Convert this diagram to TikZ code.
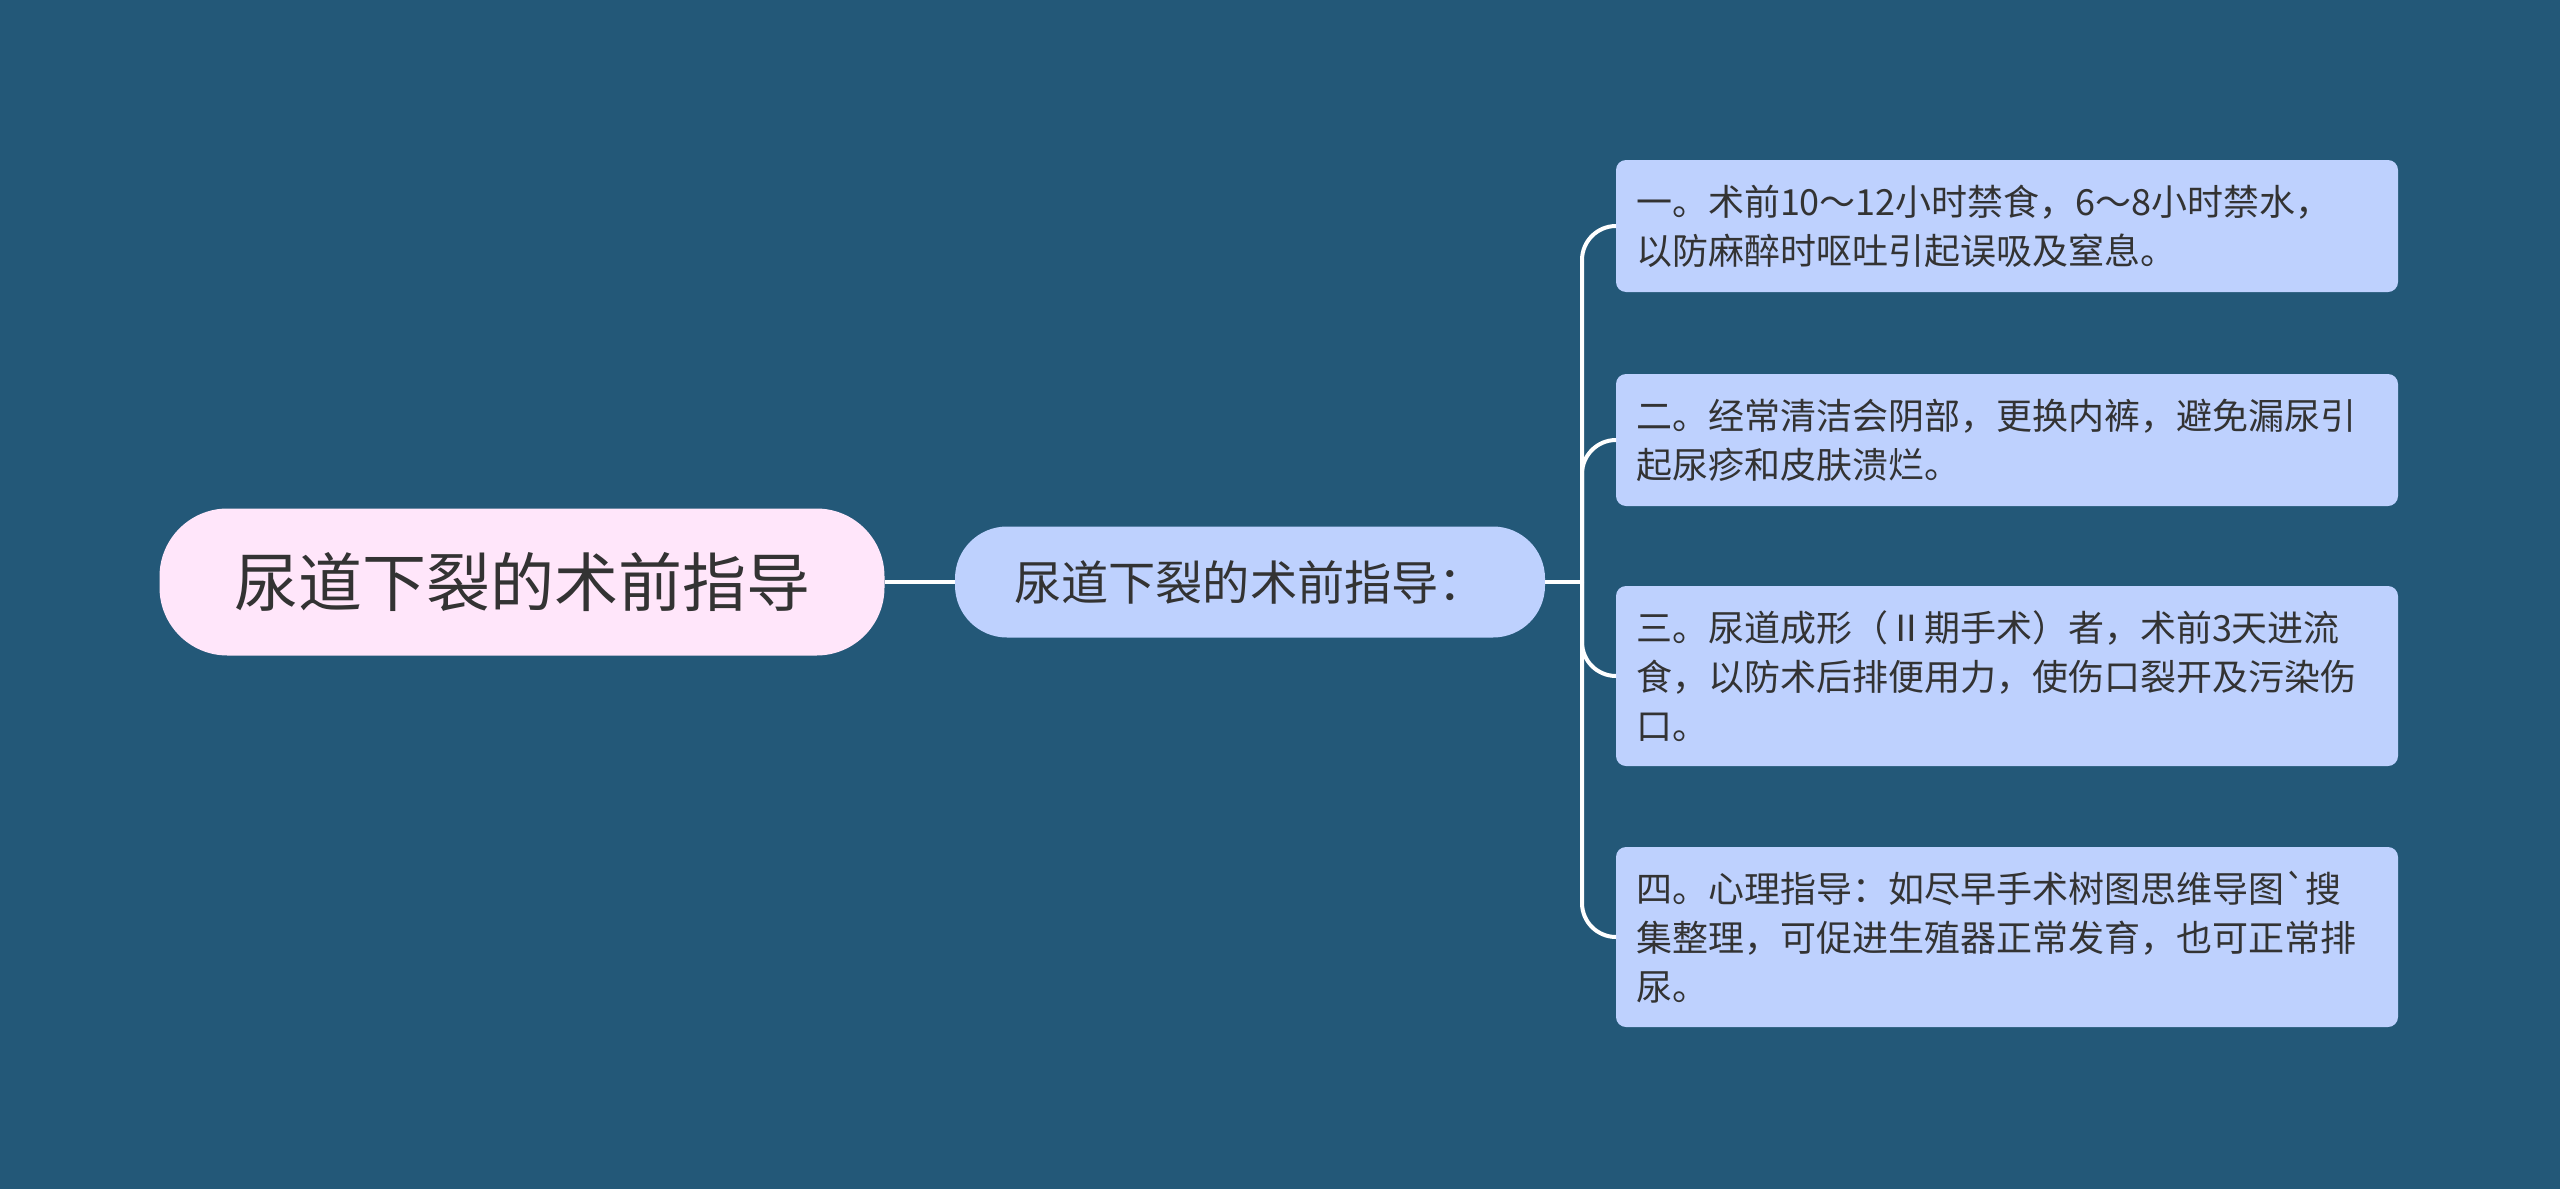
\documentclass[tikz,border=0pt]{standalone}
\usepackage{fontspec}
\setmainfont{Noto Sans CJK SC}

\definecolor{bg}{RGB}{35,88,120}
\definecolor{rootfill}{RGB}{255,230,250}
\definecolor{leaffill}{RGB}{190,209,254}
\definecolor{txt}{RGB}{51,51,51}

\begin{document}
\begin{tikzpicture}[x=0.5pt, y=-0.5pt,
        root/.style={fill=rootfill, rounded corners=34pt, minimum width=362.5pt, minimum height=73.5pt, text=txt, font=\fontsize{32}{38}\selectfont},
        mid/.style={fill=leaffill, rounded corners=26pt, minimum width=295pt, minimum height=55.5pt, text=txt, font=\fontsize{23.6}{28}\selectfont},
        leaf/.style={fill=leaffill, rounded corners=5pt, text width=371pt, inner sep=10pt, align=left, text=txt, font=\fontsize{18}{24.5}\selectfont},
        link/.style={white, line width=2pt}]
        \fill[bg] (0, 0) rectangle (2560, 1189);

        \node[root] (root) at (522, 582) {尿道下裂的术前指导};
        \node[mid] (guide) at (1250, 582) {尿道下裂的术前指导：};

        \node[leaf, minimum height=66pt] (fast) at (2007, 226) {一。术前10～12小时禁食，6～8小时禁水，\\以防麻醉时呕吐引起误吸及窒息。};
        \node[leaf, minimum height=66pt] (hygiene) at (2007, 440) {二。经常清洁会阴部，更换内裤，避免漏尿引\\起尿疹和皮肤溃烂。};
        \node[leaf, minimum height=90pt] (diet) at (2007, 676) {三。尿道成形（Ⅱ期手术）者，术前3天进流\\食，以防术后排便用力，使伤口裂开及污染伤\\口。};
        \node[leaf, minimum height=90pt] (mind) at (2007, 937) {四。心理指导：如尽早手术树图思维导图\textasciigrave 搜\\集整理，可促进生殖器正常发育，也可正常排\\尿。};

        \coordinate (fork) at (1582, 582);
        \draw[link] (root.east) -- (guide.west);
        \draw[link] (guide.east) -- (fork);
        \foreach \leafname in {fast, hygiene, diet, mind}
            \draw[link, rounded corners=17pt] (fork) |- (\leafname.west);
    \end{tikzpicture}
\end{document}
